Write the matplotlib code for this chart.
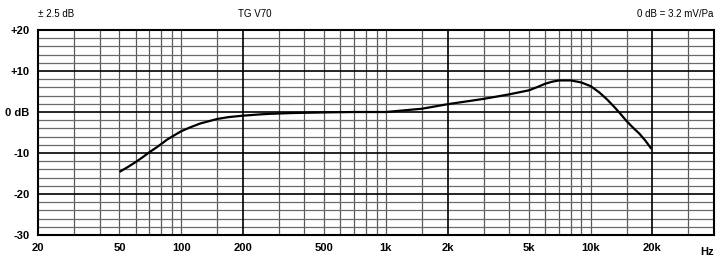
import matplotlib
matplotlib.use("Agg")
import matplotlib.pyplot as plt
import numpy as np

# frequency response
freq = [50, 55, 60, 65, 70, 75, 80, 85, 91, 100, 110, 124, 140, 150, 170, 200, 240, 270,
        350, 500, 700, 1000, 1500,
        2000, 3000, 4000, 5000, 5500, 6000, 6500, 7000, 8000, 9000, 10000, 11000, 12000,
        13000, 14000, 14900, 16000, 17300, 18500, 19800]
db = [-14.6, -13.4, -12.2, -11.0, -9.8, -8.8, -7.8, -6.8, -5.9, -4.7, -3.8, -2.8, -2.1,
      -1.7, -1.25, -0.9, -0.6, -0.45,
      -0.25, -0.1, 0.0, 0.0, 0.8,
      1.9, 3.2, 4.3, 5.3, 6.1, 6.9, 7.4, 7.7, 7.7, 7.2, 6.3, 4.8, 3.1,
      1.3, -0.5, -2.1, -3.7, -5.3, -7.0, -9.0]

x_ticks = [20, 50, 100, 200, 500, 1000, 2000, 5000, 10000, 20000]
x_labels = ["20", "50", "100", "200", "500", "1k", "2k", "5k", "10k", "20k"]
y_ticks = [-30, -20, -10, 0, 10, 20]
y_labels = ["-30", "-20", "-10", "0 dB", "+10", "+20"]

fig = plt.figure(figsize=(7.26, 2.62), dpi=100)
ax = fig.add_axes([38 / 726, 27 / 262, 676 / 726, 205 / 262])
ax.set_xscale("log")
ax.set_xlim(20, 40000)
ax.set_ylim(-30, 20)

# minor grid
minor_f = [30, 40, 50, 60, 70, 80, 90, 100, 150,
           300, 400, 500, 600, 700, 800, 900, 1000, 1500,
           3000, 4000, 5000, 6000, 7000, 8000, 9000, 10000, 15000, 30000]
for f in minor_f:
    ax.axvline(f, color="#5a5a5a", lw=0.9, zorder=1)
for f in [200, 2000, 20000]:
    ax.axvline(f, color="black", lw=1.2, zorder=2)
for y in range(-28, 20, 2):
    if y % 10:
        ax.axhline(y, color="#6a6a6a", lw=0.9, zorder=1)
for y in [-20, -10, 0, 10]:
    ax.axhline(y, color="black", lw=1.2, zorder=2)

ax.plot(freq, db, color="black", lw=1.6, zorder=3,
        solid_capstyle="butt", solid_joinstyle="round")

for s in ax.spines.values():
    s.set_linewidth(1.5)

ax.set_xticks(x_ticks)
ax.set_xticklabels(x_labels)
ax.set_yticks(y_ticks)
ax.set_yticklabels(y_labels)
ax.minorticks_off()
ax.tick_params(length=0, pad=6, labelsize=8)
for lab in ax.get_xticklabels() + ax.get_yticklabels():
    lab.set_fontfamily("Liberation Sans")
    lab.set_fontweight("bold")

ax.text(0.99, -0.06, "Hz", transform=ax.transAxes, ha="center", va="top",
        fontsize=8, fontweight="bold", family="Liberation Sans")

fig.text(38 / 726, 1 - 14 / 262, "\u00b1 2.5 dB", ha="left", va="center",
         fontsize=7, family="Liberation Sans")
fig.text(255 / 726, 1 - 14 / 262, "TG V70", ha="center", va="center",
         fontsize=7, family="Liberation Sans")
fig.text(713 / 726, 1 - 14 / 262, "0 dB = 3.2 mV/Pa", ha="right", va="center",
         fontsize=7, family="Liberation Sans")

fig.savefig("out.png", dpi=100)
